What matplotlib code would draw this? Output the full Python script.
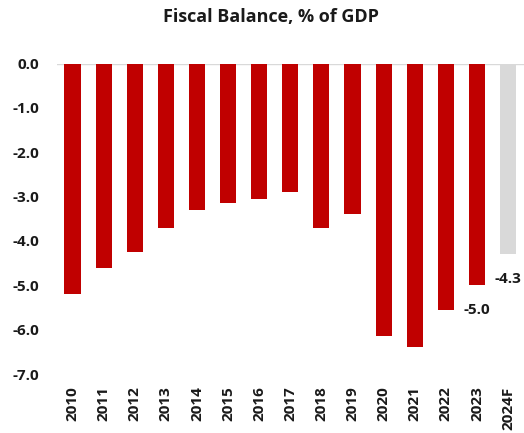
import matplotlib
matplotlib.use("Agg")
import matplotlib.pyplot as plt

years = ["2010", "2011", "2012", "2013", "2014", "2015", "2016", "2017",
         "2018", "2019", "2020", "2021", "2022", "2023", "2024F"]
balance = [-5.2, -4.6, -4.25, -3.7, -3.3, -3.15, -3.05, -2.9,
           -3.7, -3.4, -6.15, -6.4, -5.55, -5.0, -4.3]
colors = ["#C00000"] * 14 + ["#D9D9D9"]
labeled = {"2023": "-5.0", "2024F": "-4.3"}
yticks = [0.0, -1.0, -2.0, -3.0, -4.0, -5.0, -6.0, -7.0]

plt.rcParams['font.family'] = ['Open Sans', 'DejaVu Sans']

fig = plt.figure(figsize=(5.24, 4.33), dpi=100)
ax = fig.add_axes([57 / 524, 59 / 433, 466.6 / 524, 310.5 / 433])

x = list(range(len(years)))
ax.bar(x, balance, width=0.52, color=colors, zorder=2)
ax.axhline(0, color="#D9D9D9", lw=1.0, zorder=1)

for i, (yr, v) in enumerate(zip(years, balance)):
    if yr in labeled:
        ax.annotate(labeled[yr], (i, v), xytext=(0, -18), textcoords="offset points",
                    ha="center", va="center", fontsize=11, fontweight="bold",
                    color="#1a1a1a")

ax.set_xlim(-0.5, len(years) - 0.5)
ax.set_ylim(-7.0, 0.0)
ax.set_yticks(yticks)
ax.set_yticklabels([f"{t:.1f}" for t in yticks], fontsize=11, fontweight="bold",
                   color="#1a1a1a")
ax.set_xticks(x)
ax.set_xticklabels(years, rotation=90, fontsize=11, fontweight="bold",
                   color="#1a1a1a")
ax.tick_params(axis="y", length=0, pad=13)
ax.tick_params(axis="x", length=0, pad=9)
for s in ax.spines.values():
    s.set_visible(False)

fig.text(271 / 524, 1 - 17 / 433, "Fiscal Balance, % of GDP", ha="center", va="center",
         fontsize=13, fontweight="bold", color="#1a1a1a")

fig.savefig("out.png", dpi=100)
